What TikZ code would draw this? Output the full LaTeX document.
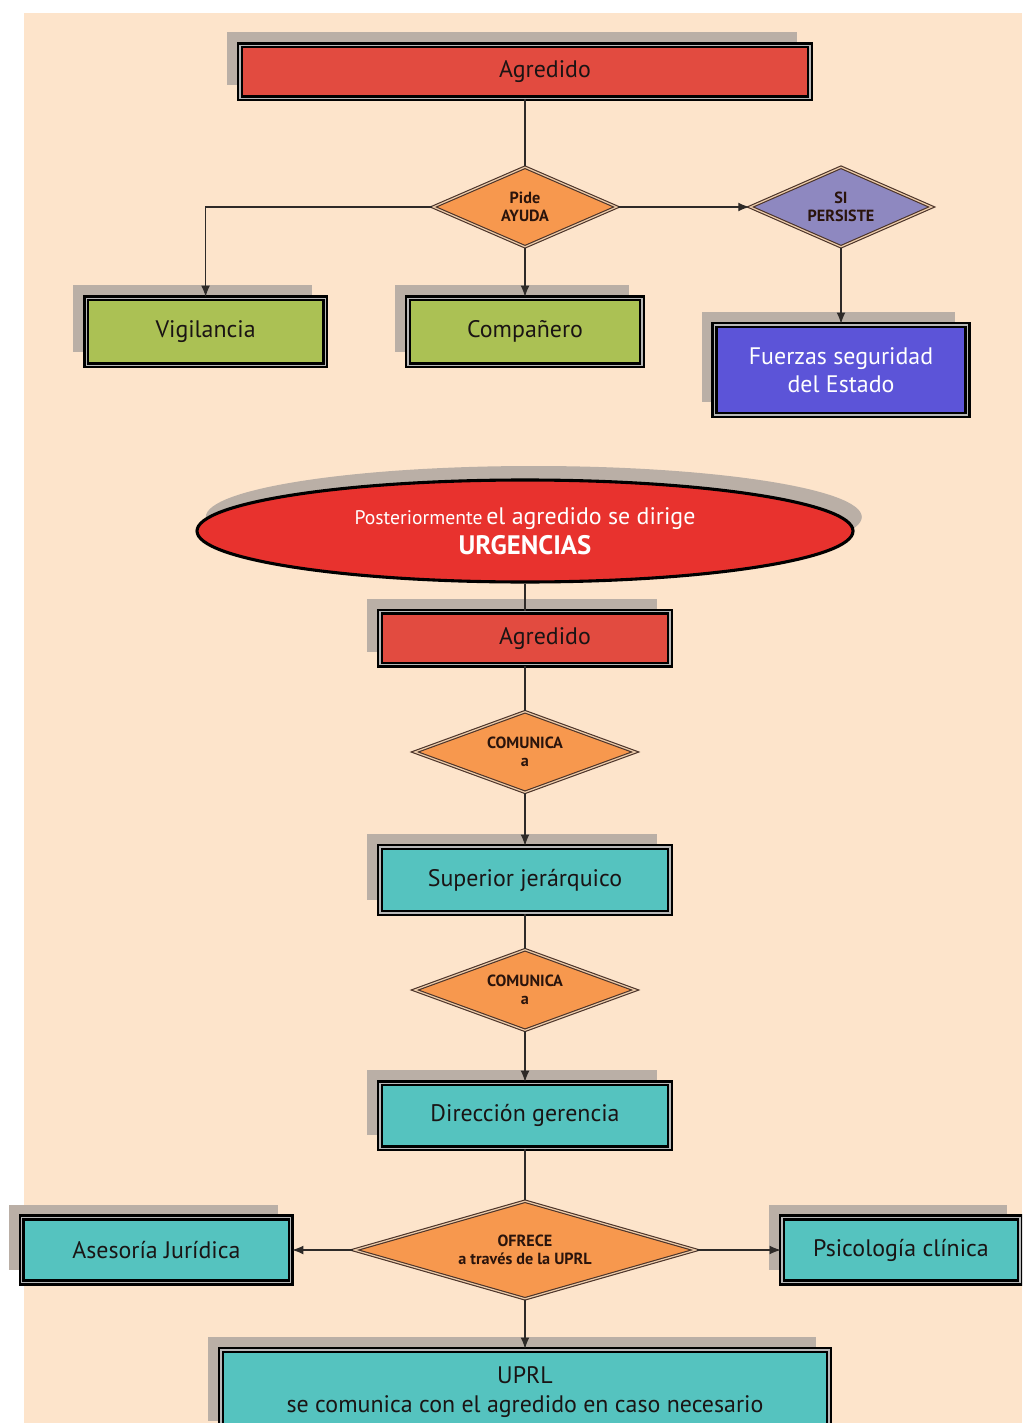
\documentclass[tikz,border=0pt]{standalone}
\usepackage{fontspec}
\setmainfont{PT Sans}
\usetikzlibrary{shapes.geometric,shadows,arrows.meta}

\begin{document}
\begin{tikzpicture}[
    box/.style={rectangle, draw=black, line width=1.8pt, double=innerLine, double distance=0.8pt,
        general shadow={fill=shadowColour, shadow xshift=-0.32cm, shadow yshift=0.32cm},
        text=textColour, font=\fontsize{17}{20}\selectfont, align=center, inner sep=2pt},
    choice/.style={diamond, draw=diamondBorder, line width=0.8pt, double=diamondLine, double distance=0.9pt,
        text=diamondText, font=\bfseries\fontsize{11.5}{12.5}\selectfont, align=center, inner sep=0pt},
    link/.style={draw=lineColour, line width=0.8pt},
    flow/.style={link, -{Latex[length=2.8mm, width=2.2mm]}}
]
    \definecolor{bgColour}{HTML}{FDE4CB}
    \definecolor{shadowColour}{HTML}{BAAFA6}
    \definecolor{innerLine}{HTML}{B8B8B8}
    \definecolor{textColour}{HTML}{1A1414}
    \definecolor{lineColour}{HTML}{2E2A28}
    \definecolor{redBox}{HTML}{E24B40}
    \definecolor{redEllipse}{HTML}{E8322E}
    \definecolor{orangeFill}{HTML}{F7984E}
    \definecolor{purpleFill}{HTML}{8E88C0}
    \definecolor{greenBox}{HTML}{ABC154}
    \definecolor{blueBox}{HTML}{5C54D8}
    \definecolor{tealBox}{HTML}{55C3BF}
    \definecolor{diamondBorder}{HTML}{4A3228}
    \definecolor{diamondLine}{HTML}{E9C9A8}
    \definecolor{diamondText}{HTML}{2A140C}

    % Page and background
    \useasboundingbox (0,0) rectangle (25.55,-35.575);
    \clip (0,0) rectangle (25.55,-35.575);
    \fill[bgColour] (0.6,-0.325) rectangle (25.55,-35.575);

    % First part: asking for help
    \node[box, fill=redBox, minimum width=14.25cm, minimum height=1.325cm] (agredidoA) at (13.125,-1.79) {\hspace*{1cm}Agredido};
    \node[choice, fill=orangeFill, aspect=2.3, minimum width=4.6cm, minimum height=2cm] (pide) at (13.125,-5.175) {Pide\\AYUDA};
    \node[choice, fill=purpleFill, aspect=2.3, minimum width=4.55cm, minimum height=2cm] (persiste) at (21.025,-5.175) {SI\\PERSISTE};
    \node[box, fill=greenBox, minimum width=5.975cm, minimum height=1.675cm] (vigilancia) at (5.14,-8.29) {Vigilancia};
    \node[box, fill=greenBox, minimum width=5.85cm, minimum height=1.675cm] (companero) at (13.125,-8.29) {Compañero};
    \node[box, fill=blueBox, text=white, minimum width=6.325cm, minimum height=2.25cm] (fuerzas) at (21.025,-9.25) {Fuerzas seguridad\\del Estado};

    % Second part: urgencias
    \node[ellipse, fill=redEllipse, draw=black, line width=2.2pt, text=white, align=center, inner sep=0pt,
        general shadow={fill=shadowColour, shadow xshift=0.22cm, shadow yshift=0.35cm},
        minimum width=16.4cm, minimum height=2.55cm] (urgencias) at (13.125,-13.275)
        {{\fontsize{14}{16}\selectfont Posteriormente} {\fontsize{17}{19}\selectfont el agredido se dirige}\\[3pt]
         {\bfseries\fontsize{19}{22}\selectfont URGENCIAS}};
    \node[box, fill=redBox, minimum width=7.25cm, minimum height=1.325cm] (agredidoB) at (13.125,-15.96) {\hspace*{1cm}Agredido};
    \node[choice, fill=orangeFill, aspect=2.7, minimum width=5.525cm, minimum height=2.025cm] (comunicaA) at (13.125,-18.8) {COMUNICA\\a};
    \node[box, fill=tealBox, minimum width=7.25cm, minimum height=1.65cm] (superior) at (13.125,-22) {Superior jerárquico};
    \node[choice, fill=orangeFill, aspect=2.7, minimum width=5.525cm, minimum height=2.025cm] (comunicaB) at (13.125,-24.75) {COMUNICA\\a};
    \node[box, fill=tealBox, minimum width=7.25cm, minimum height=1.625cm] (direccion) at (13.125,-27.89) {Dirección gerencia};
    \node[choice, fill=orangeFill, aspect=3.5, minimum width=8.55cm, minimum height=2.45cm] (ofrece) at (13.125,-31.25) {OFRECE\\a través de la UPRL};
    \node[box, fill=tealBox, minimum width=6.725cm, minimum height=1.625cm] (asesoria) at (3.91,-31.25) {Asesoría Jurídica};
    \node[box, fill=tealBox, minimum width=5.95cm, minimum height=1.625cm] (psicologia) at (22.525,-31.25) {Psicología clínica};
    \node[box, fill=tealBox, minimum width=15.2cm, minimum height=2.1cm] (uprl) at (13.125,-34.8) {UPRL\\se comunica con el agredido en caso necesario};

    % Connectors
    \draw[link] (agredidoA.south) -- (pide.north);
    \draw[flow] (pide.west) -| (vigilancia.north);
    \draw[flow] (pide.south) -- (companero.north);
    \draw[flow] (pide.east) -- (persiste.west);
    \draw[flow] (persiste.south) -- (fuerzas.north);

    \draw[link] (urgencias.south) -- (agredidoB.north);
    \draw[link] (agredidoB.south) -- (comunicaA.north);
    \draw[flow] (comunicaA.south) -- (superior.north);
    \draw[link] (superior.south) -- (comunicaB.north);
    \draw[flow] (comunicaB.south) -- (direccion.north);
    \draw[link] (direccion.south) -- (ofrece.north);
    \draw[flow] (ofrece.west) -- (asesoria.east);
    \draw[flow] (ofrece.east) -- (psicologia.west);
    \draw[flow] (ofrece.south) -- (uprl.north);

\end{tikzpicture}
\end{document}
